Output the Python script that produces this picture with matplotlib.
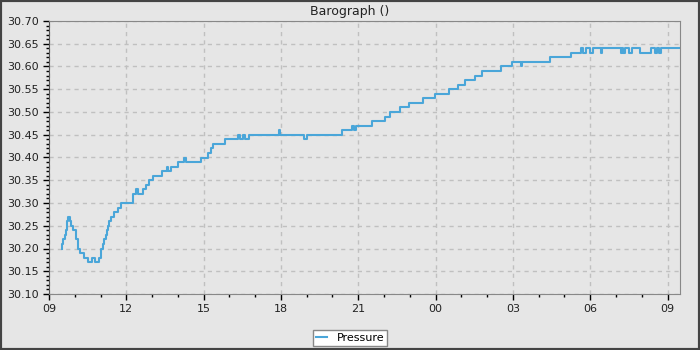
import pandas as pd
import matplotlib
matplotlib.use("Agg")
import matplotlib.pyplot as plt
import matplotlib.dates as mdates
from matplotlib.patches import Rectangle

# --- data ---
DAY1 = "2024-05-01 "
DAY2 = "2024-05-02 "
times_day1 = ["09:30", "09:31", "09:33", "09:37", "09:40", "09:41", "09:43", "09:45",
              "09:48", "09:51", "09:56", "10:02", "10:04", "10:07", "10:08", "10:12",
              "10:21", "10:31", "10:39", "10:47", "10:57", "11:00", "11:01", "11:06",
              "11:09", "11:13", "11:16", "11:18", "11:20", "11:24", "11:31", "11:41",
              "11:48", "12:15", "12:16", "12:22", "12:28", "12:39", "12:46", "12:53",
              "13:03", "13:22", "13:34", "13:38", "13:45", "14:01", "14:15", "14:19",
              "14:55", "15:11", "15:16", "15:22", "15:50", "16:21", "16:24", "16:32",
              "16:36", "16:46", "17:56", "17:58", "18:54", "19:01", "20:21", "20:46",
              "20:50", "20:54", "21:31", "22:02", "22:15", "22:37", "22:58", "23:30",
              "23:58"]
pressure_day1 = [30.20, 30.21, 30.22, 30.23, 30.24, 30.25, 30.26, 30.27,
                 30.26, 30.25, 30.24, 30.23, 30.22, 30.21, 30.20, 30.19,
                 30.18, 30.17, 30.18, 30.17, 30.18, 30.19, 30.20, 30.21,
                 30.22, 30.23, 30.24, 30.25, 30.26, 30.27, 30.28, 30.29,
                 30.30, 30.31, 30.32, 30.33, 30.32, 30.33, 30.34, 30.35,
                 30.36, 30.37, 30.38, 30.37, 30.38, 30.39, 30.40, 30.39,
                 30.40, 30.41, 30.42, 30.43, 30.44, 30.45, 30.44, 30.45,
                 30.44, 30.45, 30.46, 30.45, 30.44, 30.45, 30.46, 30.47,
                 30.46, 30.47, 30.48, 30.49, 30.50, 30.51, 30.52, 30.53,
                 30.54]
times_day2 = ["00:32", "00:52", "01:08", "01:31", "01:47", "02:33", "02:59", "03:18",
              "03:21", "04:26", "05:16", "05:39", "05:43", "05:51", "06:00", "06:07",
              "06:24", "06:28", "07:12", "07:14", "07:17", "07:20", "07:30", "07:38",
              "07:55", "08:22", "08:31", "08:35", "08:40", "08:44", "09:28"]
pressure_day2 = [30.55, 30.56, 30.57, 30.58, 30.59, 30.60, 30.61, 30.60,
                 30.61, 30.62, 30.63, 30.64, 30.63, 30.64, 30.63, 30.64,
                 30.63, 30.64, 30.63, 30.64, 30.63, 30.64, 30.63, 30.64,
                 30.63, 30.64, 30.63, 30.64, 30.63, 30.64, 30.64]

times = pd.to_datetime([DAY1 + t for t in times_day1] + [DAY2 + t for t in times_day2])
pressure = pressure_day1 + pressure_day2

BG = "#e6e6e6"
LINE = "#4aa6d9"

fig = plt.figure(figsize=(7, 3.5), dpi=100, facecolor=BG)
ax = fig.add_axes([0.07, 0.16, 0.9014, 0.78], facecolor=BG)

ax.plot(times, pressure, drawstyle="steps-post", color=LINE, lw=1.5, label="Pressure")

ax.set_xlim(pd.Timestamp(DAY1 + "09:00"), pd.Timestamp(DAY2 + "09:29"))
ax.set_ylim(30.10, 30.70)
ax.yaxis.set_major_locator(plt.MultipleLocator(0.05))
ax.yaxis.set_minor_locator(plt.MultipleLocator(0.01))
ax.yaxis.set_major_formatter(plt.FormatStrFormatter("%.2f"))
ax.xaxis.set_major_locator(mdates.HourLocator(byhour=range(0, 24, 3)))
ax.xaxis.set_minor_locator(mdates.HourLocator())
ax.xaxis.set_major_formatter(mdates.DateFormatter("%H"))

ax.tick_params(which="major", length=4, width=1, color="black", labelsize=8,
               labelcolor="#222222", pad=3)
ax.tick_params(which="minor", length=2.5, width=1, color="black")
ax.grid(True, which="major", color="#c0c0c0", lw=1, linestyle=(0, (3, 3)))
ax.set_axisbelow(True)
for side in ["top", "right", "bottom"]:
    ax.spines[side].set_color("#888888")
ax.spines["left"].set_color("#555555")

fig.text(0.5, 0.968, "Barograph ()", ha="center", va="center", fontsize=9, color="#222222")

leg = fig.legend(loc="center", bbox_to_anchor=(0.5, 0.0343), fontsize=8, frameon=True,
                 fancybox=False, edgecolor="#888888", facecolor="white", framealpha=1,
                 handlelength=1.0, borderpad=0.25, handletextpad=0.9)
leg.get_frame().set_linewidth(1)

fig.patches.append(Rectangle((0, 0), 1, 1, transform=fig.transFigure, fill=False,
                             edgecolor="#444444", lw=3, zorder=10))

fig.savefig("out.png", dpi=100, facecolor=BG)
